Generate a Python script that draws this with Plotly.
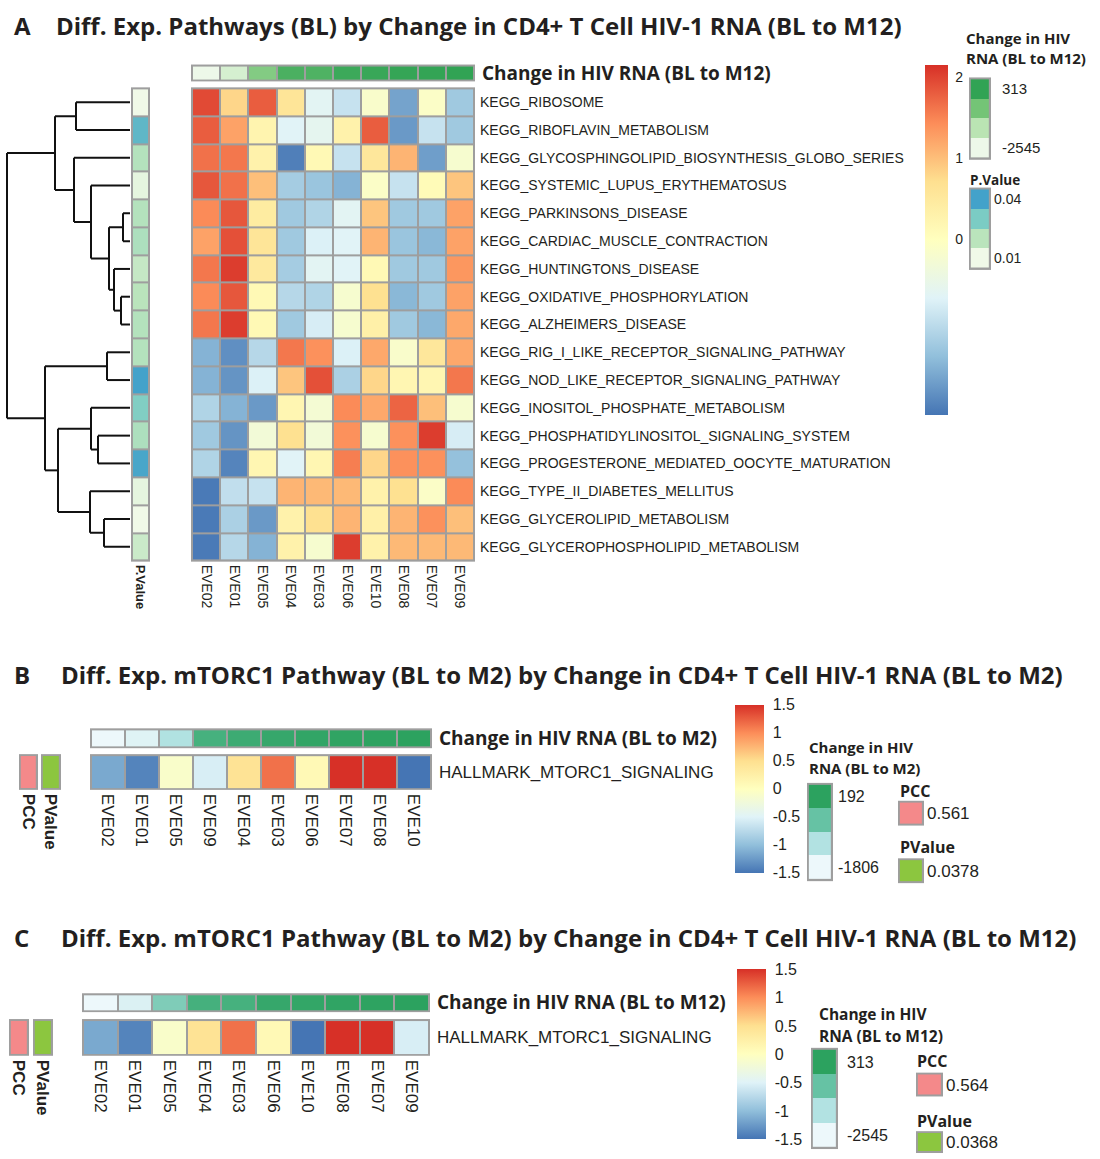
import plotly.graph_objects as go

W, H = 1100, 1159
GRID = "#9e9e9e"
TXT = "#231f20"
SANS = "Liberation Sans, Arial, sans-serif"
BOLD = "Open Sans, Lato, sans-serif"

# ---------------- Panel A data ----------------
samples_A = ["EVE02", "EVE01", "EVE05", "EVE04", "EVE03", "EVE06", "EVE10", "EVE08", "EVE07", "EVE09"]
pathways_A = [
    "KEGG_RIBOSOME", "KEGG_RIBOFLAVIN_METABOLISM", "KEGG_GLYCOSPHINGOLIPID_BIOSYNTHESIS_GLOBO_SERIES",
    "KEGG_SYSTEMIC_LUPUS_ERYTHEMATOSUS", "KEGG_PARKINSONS_DISEASE", "KEGG_CARDIAC_MUSCLE_CONTRACTION",
    "KEGG_HUNTINGTONS_DISEASE", "KEGG_OXIDATIVE_PHOSPHORYLATION", "KEGG_ALZHEIMERS_DISEASE",
    "KEGG_RIG_I_LIKE_RECEPTOR_SIGNALING_PATHWAY", "KEGG_NOD_LIKE_RECEPTOR_SIGNALING_PATHWAY",
    "KEGG_INOSITOL_PHOSPHATE_METABOLISM", "KEGG_PHOSPHATIDYLINOSITOL_SIGNALING_SYSTEM",
    "KEGG_PROGESTERONE_MEDIATED_OOCYTE_MATURATION", "KEGG_TYPE_II_DIABETES_MELLITUS",
    "KEGG_GLYCEROLIPID_METABOLISM", "KEGG_GLYCEROPHOSPHOLIPID_METABOLISM",
]
expr_A = [
    [1.95, 0.80, 1.80, 0.60, -0.65, -0.95, -0.15, -1.70, -0.10, -1.30],
    [1.80, 1.25, 0.25, -0.70, -0.60, 0.30, 1.80, -1.80, -0.95, -1.30],
    [1.65, 1.60, 0.30, -2.05, 0.15, -0.95, 0.55, 1.10, -1.75, -0.20],
    [1.85, 1.65, 1.00, -1.25, -1.35, -1.55, -0.10, -0.95, 0.10, 0.95],
    [1.45, 1.85, 0.45, -1.30, -1.15, -0.65, 0.95, -1.30, -1.30, 1.25],
    [1.25, 1.90, 0.60, -1.30, -0.75, -0.70, 1.10, -1.35, -1.50, 1.25],
    [1.60, 2.05, 0.50, -1.25, -0.65, -0.70, 0.15, -1.30, -1.30, 1.35],
    [1.45, 1.85, 0.15, -1.10, -1.15, -0.20, 0.70, -1.50, -1.30, 1.25],
    [1.60, 2.05, 0.15, -1.30, -0.80, -0.20, 0.35, -1.30, -1.50, 1.20],
    [-1.55, -1.90, -1.10, 1.60, 1.40, -0.75, 1.20, -0.15, 0.55, 1.20],
    [-1.55, -1.85, -0.75, 0.95, 1.90, -1.20, 0.80, 0.20, 0.20, 1.60],
    [-1.15, -1.55, -1.80, 0.20, -0.25, 1.45, 1.20, 1.75, 1.00, -0.20],
    [-1.30, -1.85, -0.30, 0.70, -0.30, 1.40, -0.20, 1.40, 2.05, -0.80],
    [-1.15, -2.00, 0.20, -0.70, 0.20, 1.55, 0.80, 1.40, 1.40, -1.40],
    [-2.10, -1.00, -0.95, 1.10, 1.05, 1.05, 0.30, 0.70, -0.10, 1.45],
    [-2.10, -1.20, -1.80, 0.30, 0.70, 1.10, 0.35, 1.10, 1.40, 1.00],
    [-2.10, -1.10, -1.55, 0.30, -0.20, 2.05, 0.30, 1.05, 1.05, 1.05],
]
hiv_m12_A = [-2545, -2100, -850, -60, -110, 150, 200, 250, 280, 313]
pval_A = [0.010, 0.035, 0.021, 0.012, 0.021, 0.022, 0.018, 0.020, 0.021,
          0.021, 0.040, 0.029, 0.022, 0.039, 0.012, 0.010, 0.017]
# hierarchical clustering of rows: (left, right, height); ids >= 17 are earlier merges
dendro_merges = [
    (0, 1, 54), (4, 5, 7), (7, 8, 9), (6, 19, 16), (18, 20, 21), (3, 21, 39),
    (2, 22, 56), (17, 23, 75), (9, 10, 23), (12, 13, 32), (11, 26, 39),
    (15, 16, 26), (14, 28, 40), (27, 29, 72), (25, 30, 85), (24, 31, 123),
]

# ---------------- Panel B data ----------------
samples_B = ["EVE02", "EVE01", "EVE05", "EVE09", "EVE04", "EVE03", "EVE06", "EVE07", "EVE08", "EVE10"]
mtorc1_B = [-1.15, -1.40, -0.10, -0.55, 0.45, 1.15, 0.10, 1.50, 1.50, -1.50]
hiv_m2_B = [-1806, -1650, -1130, -110, 0, 80, 120, 150, 170, 192]
pcc_B, pvalue_B = 0.561, 0.0378

# ---------------- Panel C data ----------------
samples_C = ["EVE02", "EVE01", "EVE05", "EVE04", "EVE03", "EVE06", "EVE10", "EVE08", "EVE07", "EVE09"]
mtorc1_C = [-1.15, -1.40, -0.10, 0.45, 1.15, 0.10, -1.50, 1.50, 1.50, -0.55]
hiv_m12_C = [-2545, -2250, -950, -100, -120, 150, 200, 250, 280, 313]
pcc_C, pvalue_C = 0.564, 0.0368

# ---------------- colour scales ----------------
RDYLBU = ["#4575b4", "#91bfdb", "#e0f3f8", "#ffffbf", "#fee090", "#fc8d59", "#d73027"]
GREENS = ["#edf8e9", "#bae4b3", "#74c476", "#31a354"]
BUGN = ["#edf8fb", "#b2e2e2", "#66c2a4", "#2ca25f"]
GNBU = ["#f0f9e8", "#bae4bc", "#7bccc4", "#43a2ca"]
PCC_COL = "#f4898a"
PV_COL = "#8cc63f"


def cont(cols):
    n = len(cols) - 1
    return [[i / n, c] for i, c in enumerate(cols)]


def steps(cols):
    n = len(cols)
    out = []
    for i, c in enumerate(cols):
        out += [[i / n, c], [(i + 1) / n, c]]
    return out


layout = dict(width=W, height=H, margin=dict(l=0, r=0, t=0, b=0), paper_bgcolor="white",
              plot_bgcolor=GRID, showlegend=False, annotations=[], shapes=[])
traces = []
count = [0]


def dx(a, b):
    return [max(0, a / W), min(1, b / W)]


def dy(a, b):
    return [max(0, 1 - b / H), min(1, 1 - a / H)]


def new_axes(xdom, ydom, xr, yr):
    count[0] += 1
    k = count[0]
    s = "" if k == 1 else str(k)
    base = dict(showgrid=False, zeroline=False, showticklabels=False, ticks="", showline=False, fixedrange=True)
    xa = dict(base, domain=xdom, range=xr, anchor="y" + s)
    ya = dict(base, domain=ydom, range=yr, anchor="x" + s)
    layout["xaxis" + s] = xa
    layout["yaxis" + s] = ya
    return "x" + s, "y" + s, xa, ya


def heat(z, box, colorscale, zmin, zmax, border=2, inner=True, colorbar=None):
    x0, x1, y0, y1 = box
    nr, nc = len(z), len(z[0])
    cw, ch = (x1 - x0) / nc, (y1 - y0) / nr
    hb = border / 2
    ext = hb if inner else border
    xn, yn, xa, ya = new_axes(dx(x0 - hb, x1 + hb), dy(y0 - hb, y1 + hb),
                              [-0.5 - ext / cw, nc - 0.5 + ext / cw],
                              [nr - 0.5 + ext / ch, -0.5 - ext / ch])
    t = go.Heatmap(z=z, x=list(range(nc)), y=list(range(nr)), xaxis=xn, yaxis=yn,
                   colorscale=colorscale, zmin=zmin, zmax=zmax,
                   xgap=border if inner else 0, ygap=border if inner else 0,
                   showscale=colorbar is not None, hoverinfo="skip")
    if colorbar is not None:
        t.colorbar = colorbar
    traces.append(t)
    return xa, ya


def xlabels(xa, labels, size, bold=False, family=SANS, standoff=0):
    xa.update(showticklabels=True, tickvals=list(range(len(labels))), ticktext=labels, tickangle=90,
              side="bottom", ticklabelstandoff=standoff,
              tickfont=dict(family=family, size=size, color=TXT, weight="bold" if bold else "normal"))


def ylabels(ya, vals, labels, size, bold=False, family=SANS, standoff=0):
    ya.update(showticklabels=True, tickvals=vals, ticktext=labels, side="right", ticklabelstandoff=standoff,
              tickfont=dict(family=family, size=size, color=TXT, weight="bold" if bold else "normal"))


def text(x, y, s, size, bold=False, family=None, xanchor="left"):
    layout["annotations"].append(dict(
        x=x / W, y=1 - y / H, xref="paper", yref="paper", text=s, showarrow=False,
        xanchor=xanchor, yanchor="middle",
        font=dict(family=family or (BOLD if bold else SANS), size=size, color=TXT,
                  weight="bold" if bold else "normal")))


def legend_box(box, cols, top_label, bottom_label, size, standoff):
    z = [[3], [2], [1], [0]]
    xa, ya = heat(z, box, steps(cols), -0.5, 3.5, border=2, inner=False)
    ylabels(ya, [0, 3], [top_label, bottom_label], size, standoff=standoff)


def single_box(box, value, col, label, size, standoff):
    xa, ya = heat([[value]], box, [[0, col], [1, col]], 0, 1, border=2, inner=False)
    if label:
        ylabels(ya, [0], [label], size, standoff=standoff)
    return xa, ya


# ======================= Panel A =======================
text(12, 21, "A", 24, bold=True)
text(54, 21, "Diff. Exp. Pathways (BL) by Change in CD4+ T Cell HIV-1 RNA (BL to M12)", 24, bold=True)

# dendrogram
pos = {i: float(i) for i in range(len(pathways_A))}
hgt = {i: 0.0 for i in range(len(pathways_A))}
dxs, dys = [], []
for k, (a, b, h) in enumerate(dendro_merges):
    nid = len(pathways_A) + k
    for c in (a, b):
        dxs += [hgt[c], h, None]
        dys += [pos[c], pos[c], None]
    dxs += [h, h, None]
    dys += [pos[a], pos[b], None]
    pos[nid] = (pos[a] + pos[b]) / 2
    hgt[nid] = h
nA = len(pathways_A)
chA = (560 - 84) / nA
layout["shapes"].append(dict(type="rect", xref="paper", yref="paper", x0=1 / W, x1=130.5 / W,
                             y0=1 - 566 / H, y1=1 - 78 / H,
                             fillcolor="white", line=dict(width=0), layer="below"))
xn, yn, xa, ya = new_axes(dx(5, 130), dy(84 - 1, 560 + 1), [125, 0],
                          [nA - 0.5 + 1 / chA, -0.5 - 1 / chA])
traces.append(go.Scatter(x=dxs, y=dys, xaxis=xn, yaxis=yn, mode="lines",
                         line=dict(color="#111111", width=2), hoverinfo="skip"))

# P.Value column
xa, ya = heat([[v] for v in pval_A], (132, 149, 84, 560), cont(GNBU), 0.01, 0.04)
xlabels(xa, ["P.Value"], 13, bold=True, family=SANS, standoff=2)

# annotation row
xa, ya = heat([hiv_m12_A], (192, 474, 61, 76), cont(GREENS), -2545, 313)
ylabels(ya, [0], ["Change in HIV RNA (BL to M12)"], 19, bold=True, family=BOLD, standoff=6)

# main heatmap
cbA = dict(x=925 / W, xanchor="left", xpad=0, y=1 - 60 / H, yanchor="top", ypad=0, len=350, lenmode="pixels",
           thickness=23, thicknessmode="pixels", outlinewidth=0, tickvals=[0, 1, 2],
           ticks="outside", ticklen=5, tickcolor="rgba(0,0,0,0)",
           tickfont=dict(family=SANS, size=14, color=TXT))
xa, ya = heat(expr_A, (192, 474, 84, 560), cont(RDYLBU), -2.15, 2.15, colorbar=cbA)
xlabels(xa, samples_A, 14, standoff=2)
ylabels(ya, list(range(nA)), pathways_A, 14, standoff=4)

# legends
text(964, 33, "Change in HIV", 15, bold=True)
text(964, 53, "RNA (BL to M12)", 15, bold=True)
legend_box((970, 990, 74, 155), GREENS, "313", "-2545", 15, 10)
text(968, 176, "P.Value", 13.5, bold=True)
legend_box((970, 990, 185, 266), GNBU, "0.04", "0.01", 14, 2)

# ======================= Panel B =======================
text(12, 675, "B", 24, bold=True)
text(59, 675, "Diff. Exp. mTORC1 Pathway (BL to M2) by Change in CD4+ T Cell HIV-1 RNA (BL to M2)", 24, bold=True)

xa, ya = single_box((20, 37, 756, 790), pcc_B, PCC_COL, "", 10, 0)
xlabels(xa, ["PCC"], 17, bold=True, family=SANS, standoff=3)
xa, ya = single_box((42, 60, 756, 790), pvalue_B, PV_COL, "", 10, 0)
xlabels(xa, ["PValue"], 17, bold=True, family=SANS, standoff=3)

xa, ya = heat([hiv_m2_B], (91, 431, 730, 748), cont(BUGN), -1806, 192)
ylabels(ya, [0], ["Change in HIV RNA (BL to M2)"], 19, bold=True, family=BOLD, standoff=6)

cb_ticks = [-1.5, -1, -0.5, 0, 0.5, 1, 1.5]
cb_text = ["-1.5", "-1", "-0.5", "0", "0.5", "1", "1.5"]
cbB = dict(x=735 / W, xanchor="left", xpad=0, y=1 - 705 / H, yanchor="top", ypad=0, len=168, lenmode="pixels",
           thickness=29, thicknessmode="pixels", outlinewidth=0, tickvals=cb_ticks, ticktext=cb_text,
           ticks="outside", ticklen=6, tickcolor="rgba(0,0,0,0)",
           tickfont=dict(family=SANS, size=16, color=TXT))
xa, ya = heat([mtorc1_B], (91, 431, 756, 790), cont(RDYLBU), -1.5, 1.5, colorbar=cbB)
xlabels(xa, samples_B, 17, standoff=3)
ylabels(ya, [0], ["HALLMARK_MTORC1_SIGNALING"], 17, standoff=6)

text(807, 748, "Change in HIV", 15, bold=True)
text(807, 769, "RNA (BL to M2)", 15, bold=True)
legend_box((808, 832, 785, 882), BUGN, "192", "-1806", 16, 4)
text(898, 792, "PCC", 16, bold=True)
single_box((899, 923, 803, 826), pcc_B, PCC_COL, "0.561", 17, 2)
text(898, 849, "PValue", 16, bold=True)
single_box((899, 923, 861, 884), pvalue_B, PV_COL, "0.0378", 17, 2)

# ======================= Panel C =======================
text(12, 940, "C", 24, bold=True)
text(59, 940, "Diff. Exp. mTORC1 Pathway (BL to M2) by Change in CD4+ T Cell HIV-1 RNA (BL to M12)", 24, bold=True)

xa, ya = single_box((10, 28, 1023, 1058), pcc_C, PCC_COL, "", 10, 0)
xlabels(xa, ["PCC"], 17, bold=True, family=SANS, standoff=3)
xa, ya = single_box((34, 52, 1023, 1058), pvalue_C, PV_COL, "", 10, 0)
xlabels(xa, ["PValue"], 17, bold=True, family=SANS, standoff=3)

xa, ya = heat([hiv_m12_C], (83, 429, 997, 1014), cont(BUGN), -2545, 313)
ylabels(ya, [0], ["Change in HIV RNA (BL to M12)"], 19, bold=True, family=BOLD, standoff=6)

cbC = dict(cbB, y=1 - 972 / H, x=737 / W, len=170)
xa, ya = heat([mtorc1_C], (83, 429, 1023, 1058), cont(RDYLBU), -1.5, 1.5, colorbar=cbC)
xlabels(xa, samples_C, 17, standoff=3)
ylabels(ya, [0], ["HALLMARK_MTORC1_SIGNALING"], 17, standoff=6)

text(817, 1017, "Change in HIV", 15.5, bold=True)
text(817, 1039, "RNA (BL to M12)", 15.5, bold=True)
legend_box((812, 837, 1052, 1152), BUGN, "313", "-2545", 16, 8)
text(915, 1064, "PCC", 16, bold=True)
single_box((917, 942, 1077, 1099), pcc_C, PCC_COL, "0.564", 17, 2)
text(915, 1125, "PValue", 16, bold=True)
single_box((917, 942, 1136, 1156), pvalue_C, PV_COL, "0.0368", 17, 2)

fig = go.Figure(data=traces, layout=layout)
fig.write_html("out.html")
